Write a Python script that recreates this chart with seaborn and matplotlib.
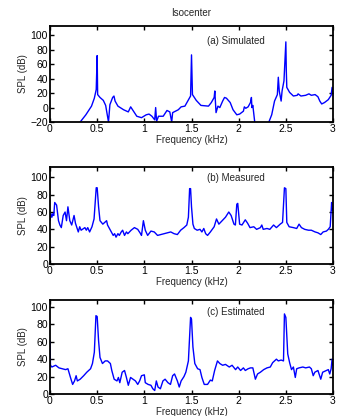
"""Isocenter SPL spectra: simulated, measured and estimated (three stacked panels)."""
import matplotlib
matplotlib.use("Agg")
import matplotlib.pyplot as plt
import seaborn as sns

# ---- panel (a) Simulated ----
freq_sim = [0.30, 0.32, 0.38, 0.44, 0.47, 0.49, 0.50, 0.505, 0.53, 0.565, 0.59, 0.62, 0.635,
            0.664, 0.678, 0.69, 0.72, 0.78, 0.83, 0.855, 0.875, 0.92, 0.97, 1.02, 1.05, 1.08,
            1.11, 1.12, 1.13, 1.15, 1.20, 1.24, 1.27, 1.29, 1.30, 1.36, 1.39, 1.43, 1.46, 1.49,
            1.50, 1.51, 1.55, 1.60, 1.68, 1.71, 1.74, 1.747, 1.76, 1.78, 1.80, 1.83, 1.85, 1.87,
            1.91, 1.94, 1.98, 2.01, 2.05, 2.06, 2.075, 2.10, 2.125, 2.135, 2.14, 2.15, 2.17,
            2.20, 2.30, 2.32, 2.35, 2.38, 2.41, 2.42, 2.43, 2.45, 2.46, 2.48, 2.50, 2.505, 2.51,
            2.54, 2.58, 2.62, 2.63, 2.66, 2.71, 2.745, 2.77, 2.81, 2.84, 2.86, 2.88, 2.91, 2.95,
            2.98, 2.99, 3.00]
spl_sim = [-45, -20, -10, 2, 13, 25, 72, 18, 14, 10, 3, -20, 4,
           14, 16, 9, 2, -3, -6, 1, -3, -12, -14, -10, -9, -12,
           -17, 0, -19, -12, -12, -4, -6, -20, -7, -3, 1, 2, 9, 16,
           73, 18, 10, 3, 2, 7, 14, 23, -7, 2, 0, 9, 14, 13,
           7, -3, -10, -9, -5, 1, -1, 1, 7, 14, 0, 3, -20,
           -45, -45, -20, -10, 9, 18, 42, 23, 9, 23, 37, 91, 50, 28,
           21, 16, 17, 19, 16, 17, 19, 17, 18, 15, 9, 5, 7, 11,
           17, 28, 21]

# ---- panel (b) Measured ----
freq_meas = [0.00, 0.01, 0.02, 0.03, 0.04, 0.05, 0.07, 0.09, 0.105, 0.12, 0.14, 0.16, 0.175,
             0.19, 0.21, 0.23, 0.255, 0.27, 0.30, 0.315, 0.33, 0.37, 0.385, 0.40, 0.42, 0.445,
             0.467, 0.49, 0.50, 0.515, 0.53, 0.56, 0.58, 0.60, 0.61, 0.64, 0.67, 0.685, 0.70,
             0.72, 0.735, 0.755, 0.77, 0.79, 0.81, 0.825, 0.86, 0.895, 0.93, 0.96, 0.97, 0.99,
             1.01, 1.035, 1.07, 1.105, 1.14, 1.175, 1.21, 1.245, 1.28, 1.315, 1.35, 1.385, 1.42,
             1.45, 1.467, 1.48, 1.49, 1.50, 1.515, 1.53, 1.56, 1.59, 1.61, 1.63, 1.65, 1.67,
             1.70, 1.74, 1.765, 1.79, 1.825, 1.86, 1.895, 1.92, 1.95, 1.965, 1.98, 1.99, 2.01,
             2.035, 2.07, 2.095, 2.12, 2.16, 2.19, 2.23, 2.245, 2.26, 2.30, 2.33, 2.37, 2.40,
             2.44, 2.465, 2.485, 2.50, 2.51, 2.535, 2.58, 2.615, 2.64, 2.665, 2.70, 2.74, 2.77,
             2.81, 2.84, 2.87, 2.895, 2.93, 2.95, 2.97, 2.985, 2.99, 3.00]
spl_meas = [50, 58, 54, 58, 56, 71, 68, 50, 45, 42, 56, 60, 50,
            66, 50, 45, 56, 47, 37, 43, 39, 42, 39, 42, 37, 43,
            52, 88, 88, 66, 50, 46, 48, 50, 45, 39, 33, 35, 31,
            35, 33, 37, 39, 33, 37, 35, 39, 42, 40, 35, 33, 50,
            39, 33, 38, 37, 33, 34, 35, 36, 37, 35, 34, 39, 42,
            45, 54, 87, 87, 66, 46, 41, 39, 40, 37, 41, 35, 33,
            37, 43, 52, 46, 50, 54, 60, 56, 46, 45, 69, 70, 46,
            45, 51, 47, 42, 43, 40, 42, 45, 40, 41, 40, 45, 42,
            46, 48, 88, 87, 48, 43, 42, 41, 46, 42, 40, 39, 39,
            37, 36, 34, 37, 38, 40, 43, 71, 62, 64]

# ---- panel (c) Estimated ----
freq_est = [0.00, 0.005, 0.02, 0.06, 0.095, 0.13, 0.165, 0.19, 0.217, 0.24, 0.26, 0.277, 0.29,
            0.32, 0.357, 0.39, 0.43, 0.45, 0.47, 0.487, 0.50, 0.515, 0.53, 0.556, 0.585, 0.61,
            0.64, 0.655, 0.68, 0.71, 0.725, 0.74, 0.765, 0.79, 0.81, 0.83, 0.854, 0.88, 0.906,
            0.93, 0.95, 0.97, 1.00, 1.01, 1.04, 1.07, 1.09, 1.11, 1.127, 1.145, 1.17, 1.197,
            1.22, 1.25, 1.277, 1.30, 1.32, 1.35, 1.37, 1.39, 1.42, 1.44, 1.467, 1.49, 1.50,
            1.515, 1.535, 1.565, 1.59, 1.61, 1.635, 1.67, 1.70, 1.72, 1.745, 1.775, 1.80, 1.83,
            1.86, 1.90, 1.93, 1.967, 1.99, 2.02, 2.05, 2.07, 2.10, 2.125, 2.15, 2.177, 2.20,
            2.23, 2.265, 2.30, 2.335, 2.36, 2.40, 2.42, 2.45, 2.475, 2.485, 2.50, 2.52, 2.54,
            2.56, 2.58, 2.60, 2.615, 2.64, 2.68, 2.71, 2.75, 2.77, 2.79, 2.807, 2.84, 2.87,
            2.89, 2.91, 2.95, 2.965, 2.98, 2.99, 3.00]
spl_est = [61, 33, 31, 33, 30, 29, 28, 29, 19, 11, 15, 21, 15,
           17, 21, 25, 29, 35, 48, 90, 89, 61, 42, 35, 38, 38,
           35, 27, 17, 15, 19, 13, 25, 27, 19, 10, 19, 17, 15,
           11, 15, 21, 22, 13, 11, 10, 6, 4, 15, 8, 6, 15,
           17, 13, 11, 21, 23, 15, 8, 15, 20, 25, 38, 88, 86,
           54, 35, 29, 28, 19, 11, 11, 16, 15, 27, 38, 35, 33,
           34, 31, 33, 28, 31, 27, 30, 27, 29, 30, 30, 17, 23,
           25, 28, 30, 31, 36, 40, 38, 39, 38, 92, 88, 46, 36,
           28, 31, 19, 29, 30, 31, 30, 31, 29, 21, 25, 27, 17,
           25, 26, 28, 23, 29, 40, 33]

PANELS = [
    (freq_sim, spl_sim, "(a) Simulated", (-20, 113), [-20, 0, 20, 40, 60, 80, 100], 92),
    (freq_meas, spl_meas, "(b) Measured", (0, 112), [0, 20, 40, 60, 80, 100], 99),
    (freq_est, spl_est, "(c) Estimated", (0, 108), [0, 20, 40, 60, 80, 100], 94),
]
# axes boxes in figure fractions (left, bottom, width, height)
BOXES = [
    (0.1445, 0.7067, 0.818, 0.2308),
    (0.1445, 0.3654, 0.818, 0.2332),
    (0.1445, 0.0529, 0.818, 0.2260),
]
XTICKS = [0, 0.5, 1, 1.5, 2, 2.5, 3]
XTICKLABELS = ["0", "0.5", "1", "1.5", "2", "2.5", "3"]


def main() -> None:
    sns.set_style("ticks")
    plt.rcParams["font.family"] = ["Liberation Sans", "DejaVu Sans"]
    fig = plt.figure(figsize=(3.46, 4.16), dpi=100)
    for i, ((f, v, label, ylim, yticks, label_y), box) in enumerate(zip(PANELS, BOXES)):
        ax = fig.add_axes(box)
        sns.lineplot(x=f, y=v, ax=ax, color="#0000ff", linewidth=1.0, estimator=None, sort=False)
        ax.set_xlim(0, 3)
        ax.set_ylim(*ylim)
        ax.set_xticks(XTICKS)
        ax.set_xticklabels(XTICKLABELS)
        ax.set_yticks(yticks)
        ax.tick_params(direction="in", length=3, width=1.0, top=True, right=True,
                       labelsize=7.5, pad=1.5, colors="black")
        for sp in ax.spines.values():
            sp.set_visible(True)
            sp.set_linewidth(1.3)
            sp.set_color("black")
        ax.set_xlabel("Frequency (kHz)", fontsize=7, labelpad=0.5)
        ax.set_ylabel("SPL (dB)", fontsize=7, labelpad=2)
        ax.text(1.66, label_y, label, fontsize=7, ha="left", va="center")
        if i == 0:
            ax.set_title("Isocenter", fontsize=7, pad=7)
    fig.savefig("out.png", dpi=100)
    plt.close(fig)


if __name__ == "__main__":
    main()
